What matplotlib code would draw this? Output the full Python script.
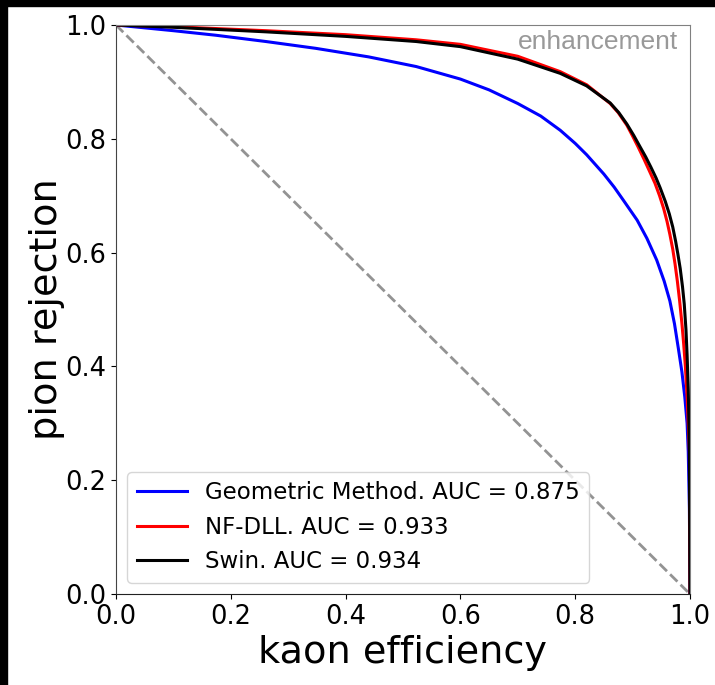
import matplotlib
matplotlib.use("Agg")
import matplotlib.pyplot as plt
from matplotlib.patches import Rectangle

# ROC curves: kaon efficiency vs pion rejection
geo_eff = [0.0, 0.05, 0.1, 0.174, 0.261, 0.348, 0.44, 0.523, 0.6, 0.65, 0.7, 0.74,
           0.774, 0.8, 0.82, 0.85, 0.868, 0.884, 0.908, 0.925, 0.942, 0.955, 0.965,
           0.973, 0.98, 0.986, 0.991, 0.995, 0.997, 0.999, 1.0]
geo_rej = [1.0, 0.995, 0.99, 0.982, 0.971, 0.959, 0.944, 0.927, 0.905, 0.886, 0.862, 0.84,
           0.815, 0.792, 0.772, 0.738, 0.715, 0.692, 0.657, 0.625, 0.587, 0.55, 0.515,
           0.475, 0.43, 0.39, 0.346, 0.3, 0.25, 0.15, 0.0]

nf_eff = [0.0, 0.1, 0.261, 0.4, 0.523, 0.6, 0.7, 0.774, 0.82, 0.861, 0.875, 0.89,
          0.9, 0.91, 0.92, 0.93, 0.939, 0.947, 0.954, 0.96, 0.965, 0.97, 0.974,
          0.978, 0.982, 0.986, 0.989, 0.992, 0.995, 0.997, 0.999, 1.0]
nf_rej = [1.0, 0.997, 0.99, 0.983, 0.974, 0.966, 0.945, 0.918, 0.895, 0.862, 0.846, 0.824,
          0.805, 0.785, 0.764, 0.742, 0.722, 0.70, 0.678, 0.655, 0.632, 0.606, 0.58,
          0.55, 0.515, 0.475, 0.44, 0.4, 0.346, 0.3, 0.25, 0.0]

swin_eff = [0.0, 0.1, 0.261, 0.4, 0.523, 0.6, 0.7, 0.774, 0.82, 0.861, 0.876, 0.89,
            0.902, 0.913, 0.923, 0.932, 0.941, 0.948, 0.957, 0.964, 0.97, 0.975,
            0.979, 0.983, 0.987, 0.99, 0.993, 0.995, 0.997, 0.998, 0.999, 1.0]
swin_rej = [1.0, 0.996, 0.988, 0.98, 0.971, 0.962, 0.94, 0.915, 0.893, 0.863, 0.846, 0.826,
            0.806, 0.786, 0.768, 0.75, 0.731, 0.714, 0.69, 0.668, 0.645, 0.62,
            0.597, 0.572, 0.54, 0.51, 0.465, 0.42, 0.36, 0.31, 0.25, 0.0]

labels = ["Geometric Method. AUC = 0.875",
          "NF-DLL. AUC = 0.933",
          "Swin. AUC = 0.934"]
colors = ["blue", "red", "black"]

fig = plt.figure(figsize=(7.15, 6.85), dpi=100)
ax = fig.add_axes([0.1622, 0.1328, 0.8028, 0.8307])

ax.plot([0, 1], [1, 0], color="gray", ls="--", lw=2, alpha=0.85)
for eff, rej, lab, c in zip([geo_eff, nf_eff, swin_eff],
                            [geo_rej, nf_rej, swin_rej], labels, colors):
    ax.plot(eff, rej, color=c, lw=2.2, label=lab)

ax.set_xlim(0, 1)
ax.set_ylim(0, 1)
ax.set_xticks([0, 0.2, 0.4, 0.6, 0.8, 1.0])
ax.set_yticks([0, 0.2, 0.4, 0.6, 0.8, 1.0])
ax.tick_params(labelsize=18.5)
ax.set_xlabel("kaon efficiency", fontsize=27.5)
ax.set_ylabel("pion rejection", fontsize=27.5, labelpad=0)

ax.spines["top"].set_color("#808080")
ax.spines["right"].set_color("#808080")
ax.spines["left"].set_color("#444444")
ax.spines["bottom"].set_color("#222222")

ax.legend(loc="lower left", fontsize=16.5, handlelength=2.2)

ax.text(0.979, 0.992, "enhancement", transform=ax.transAxes, ha="right", va="top",
        fontsize=19, color="#999999", family="Liberation Sans")

# dark frame along the left and top edges
fig.patches.append(Rectangle((0, 0), 7 / 715, 1, transform=fig.transFigure,
                             color="black", zorder=10))
fig.patches.append(Rectangle((0, 1 - 6 / 685), 1, 6 / 685, transform=fig.transFigure,
                             color="black", zorder=10))

fig.savefig("out.png", dpi=100)
